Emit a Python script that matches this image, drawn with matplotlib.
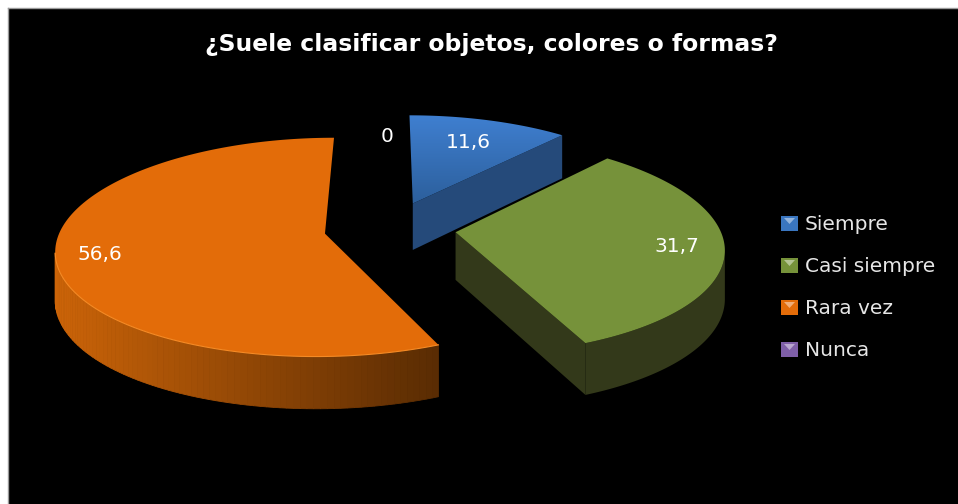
import numpy as np
import matplotlib
matplotlib.use('Agg')
import matplotlib.pyplot as plt
from matplotlib.colors import to_rgb
from matplotlib.patches import Polygon, Rectangle

# Datos del grafico
titulo = '¿Suele clasificar objetos, colores o formas?'
categorias = ['Siempre', 'Casi siempre', 'Rara vez', 'Nunca']
valores = [11.6, 31.7, 56.6, 0]
etiquetas = ['11,6', '31,7', '56,6', '0']

colores_sup = ['#3a76c0', '#76923a', '#e36c09', '#7f5fa8']
colores_pared = ['#254a7a', '#33391a', '#7a3c05', '#40305a']
pos_etiquetas = [(468, 142), (677, 247), (100, 254), (387, 137)]

# Parametros de la proyeccion (en pixeles)
XC, YC = 390, 228
A, B = 264, 108
EXPLODE = 0.25


def proyectar(wx, v):
    # v > 0 es hacia el observador
    x = XC + wx * A * (1 + 0.14 * v)
    y = YC + B * v * (1 + 0.125 * v)
    return np.column_stack([x, y])


def altura(v):
    return 47.5 + 4.5 * v


def bajar(pts, v):
    out = pts.copy()
    out[:, 1] += altura(v)
    return out


def mezcla(c1, c2, t):
    return tuple((1 - t) * np.array(to_rgb(c1)) + t * np.array(to_rgb(c2)))


fig = plt.figure(figsize=(9.58, 5.04), dpi=100, facecolor='white')
ax = fig.add_axes([8 / 958, 0, 950 / 958, 496 / 504])
ax.set_facecolor('black')
ax.set_xticks([])
ax.set_yticks([])
for lado in ['right', 'bottom']:
    ax.spines[lado].set_visible(False)
for lado in ['left', 'top']:
    ax.spines[lado].set_color('#9a9a9a')
    ax.spines[lado].set_linewidth(1)

total = sum(valores)
fin = np.cumsum(valores) / total * 2 * np.pi
ini = np.concatenate([[0], fin[:-1]])

# Geometria de cada sector
sectores = []
for t0, t1 in zip(ini, fin):
    mid = (t0 + t1) / 2
    ox, ov = EXPLODE * np.sin(mid), -EXPLODE * np.cos(mid)
    th = np.linspace(t0, t1, 160)
    sectores.append((ox + np.sin(th), ov - np.cos(th), ox, ov, th))

# Azul: atras
wx, v, ox, ov, th = sectores[0]
arco = proyectar(wx, v)
centro = proyectar(np.array([ox]), np.array([ov]))
sup = np.vstack([centro, arco])
pared = np.vstack([arco[-1:], centro, bajar(centro, ov), bajar(arco[-1:], v[-1])])
ax.add_patch(Polygon(pared, closed=True, fc=colores_pared[0], ec='none', zorder=2))
gradiente = np.linspace(0, 1, 64).reshape(-1, 1)
ymin, ymax = sup[:, 1].min(), sup[:, 1].max()
xmin, xmax = sup[:, 0].min(), sup[:, 0].max()
cmap = matplotlib.colors.LinearSegmentedColormap.from_list('azul', ['#3f7fd0', '#2c5f9c'])
im = ax.imshow(gradiente, extent=[xmin, xmax, ymax, ymin], cmap=cmap, aspect='auto', zorder=3)
clip = Polygon(sup, closed=True, transform=ax.transData, fc='none', ec='none')
ax.add_patch(clip)
im.set_clip_path(clip)

# Naranja: pared exterior con degradado
wx, v, ox, ov, th = sectores[2]
arco = proyectar(wx, v)
centro = proyectar(np.array([ox]), np.array([ov]))
abajo = bajar(arco, v)
n = np.argmin(arco[:, 0]) + 1
for i in range(n - 1):
    t = (arco[i, 0] - arco[n - 1, 0]) / (arco[0, 0] - arco[n - 1, 0])
    c = mezcla('#cc6408', '#5a2c03', t)
    quad = [arco[i], arco[i + 1], abajo[i + 1], abajo[i]]
    ax.add_patch(Polygon(quad, closed=True, fc=c, ec=c, lw=0.6, zorder=4))
ax.add_patch(Polygon(np.vstack([centro, arco]), closed=True, fc=colores_sup[2],
                     ec='none', zorder=5))
ax.plot(arco[:n, 0], arco[:n, 1], color='#f58a25', lw=0.8, zorder=5)

# Verde
wx, v, ox, ov, th = sectores[1]
arco = proyectar(wx, v)
centro = proyectar(np.array([ox]), np.array([ov]))
abajo = bajar(arco, v)
der = np.argmax(arco[:, 0])
pared = np.vstack([arco[der:][::-1], abajo[der:]])
ax.add_patch(Polygon(pared, closed=True, fc=colores_pared[1], ec='none', zorder=6))
corte = np.vstack([centro, arco[-1:], abajo[-1:], bajar(centro, ov)])
ax.add_patch(Polygon(corte, closed=True, fc=colores_pared[1], ec='none', zorder=6))
ax.add_patch(Polygon(np.vstack([centro, arco]), closed=True, fc=colores_sup[1],
                     ec='none', zorder=7))

# Titulo
ax.text(491, 44, titulo, color='white', ha='center', va='center', fontsize=16.9,
        fontweight='bold', family='DejaVu Sans', zorder=10)

# Etiquetas de datos
for txt, (x, y) in zip(etiquetas, pos_etiquetas):
    ax.text(x, y, txt, color='white', ha='center', va='center', fontsize=14.5,
            family='DejaVu Sans', zorder=10)

# Leyenda
y_leyenda = [224, 266, 308, 350]
for nombre, col, y in zip(categorias, colores_sup, y_leyenda):
    ax.add_patch(Rectangle((781, y - 8), 17, 15, fc=col, ec='none', zorder=10))
    ax.add_patch(Polygon([(784, y - 6), (795, y - 6), (789.5, y)], closed=True,
                         fc=mezcla(col, 'white', 0.45), ec='none', zorder=11))
    ax.text(805, y, nombre, color='#e6e6e6', ha='left', va='center', fontsize=14.5,
            family='DejaVu Sans', zorder=10)

ax.set_xlim(8, 958)
ax.set_ylim(504, 8)
fig.savefig('out.png', dpi=100, facecolor='white')
